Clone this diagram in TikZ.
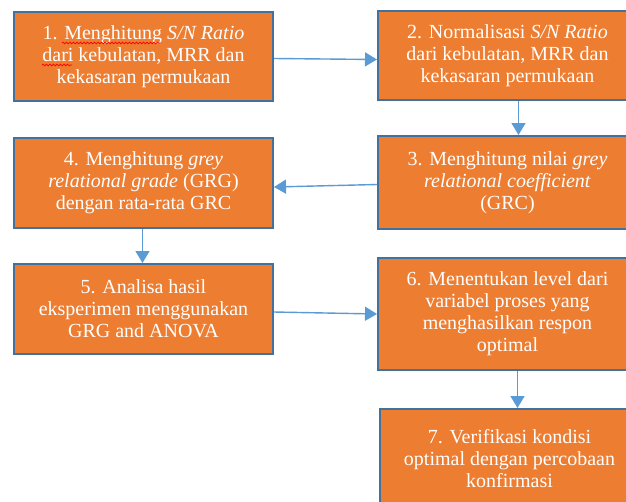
\documentclass[tikz,border=0pt]{standalone}
\usepackage{fontspec}
\setmainfont{Liberation Serif}
\newfontfamily\boxfont{Liberation Serif}
\usetikzlibrary{arrows.meta,decorations.pathmorphing,calc}
\definecolor{boxfill}{HTML}{ED7D31}
\definecolor{boxline}{HTML}{41719C}
\definecolor{arrowc}{HTML}{5B9BD5}
\begin{document}
\begin{tikzpicture}[x=1pt,y=-1pt,
  stepbox/.style={draw=boxline, line width=2pt, fill=boxfill, text=white, align=center,
    font=\boxfont\fontsize{20}{22}\selectfont, inner sep=0pt, minimum width=259pt, anchor=north west},
  flow/.style={draw=arrowc, line width=1.4pt, -{Triangle[length=12pt,width=14pt]}},
  squig/.style={draw=red, line width=0.7pt, decorate, decoration={snake, amplitude=0.9pt, segment length=3.5pt}}]
\useasboundingbox (0,0) rectangle (626,501);
\clip (0,0) rectangle (626,501);
\fill[white] (0,0) rectangle (626,501);

\node[stepbox, minimum height=89pt] (b1) at (13,11)
  {1. Menghitung \textit{S/N Ratio}\\ dari kebulatan, MRR dan\\ kekasaran permukaan};
\node[stepbox, minimum height=89pt] (b2) at (377,10)
  {2. Normalisasi \textit{S/N Ratio}\\ dari kebulatan, MRR dan\\ kekasaran permukaan};
\node[stepbox, minimum height=93pt] (b3) at (377,135)
  {3. Menghitung nilai \textit{grey}\\ \textit{relational coefficient}\\ (GRC)};
\node[stepbox, minimum height=90pt] (b4) at (13,137)
  {4. Menghitung \textit{grey}\\ \textit{relational grade} (GRG)\\ dengan rata-rata GRC};
\node[stepbox, minimum height=90pt] (b5) at (13,263)
  {5. Analisa hasil\\ eksperimen menggunakan\\ GRG and ANOVA};
\node[stepbox, minimum height=112pt] (b6) at (377,257)
  {6. Menentukan level dari\\ variabel proses yang\\ menghasilkan respon\\ optimal};
\node[stepbox, minimum height=100pt] (b7) at (379,408)
  {7. Verifikasi kondisi\\ optimal dengan percobaan\\ konfirmasi};

\draw[squig] ($(b1.north west)+(49,32)$) -- ($(b1.north west)+(147,32)$);
\draw[squig] ($(b1.north west)+(29,54)$) -- ($(b1.north west)+(59,54)$);

\draw[flow] ([yshift=-2pt]b1.east) -- ([yshift=-4pt]b2.west);
\draw[flow] ([xshift=11pt]b2.south) -- ([xshift=11pt]b2.south |- b3.north);
\draw[flow] ([yshift=-2pt]b3.west) -- ([yshift=-4pt]b4.east);
\draw[flow] ([xshift=-1pt]b4.south) -- ([xshift=-1pt]b4.south |- b5.north);
\draw[flow] ([yshift=-3pt]b5.east) -- (b6.west);
\draw[flow] ([xshift=10pt]b6.south) -- ([xshift=10pt]b6.south |- b7.north);
\end{tikzpicture}
\end{document}
